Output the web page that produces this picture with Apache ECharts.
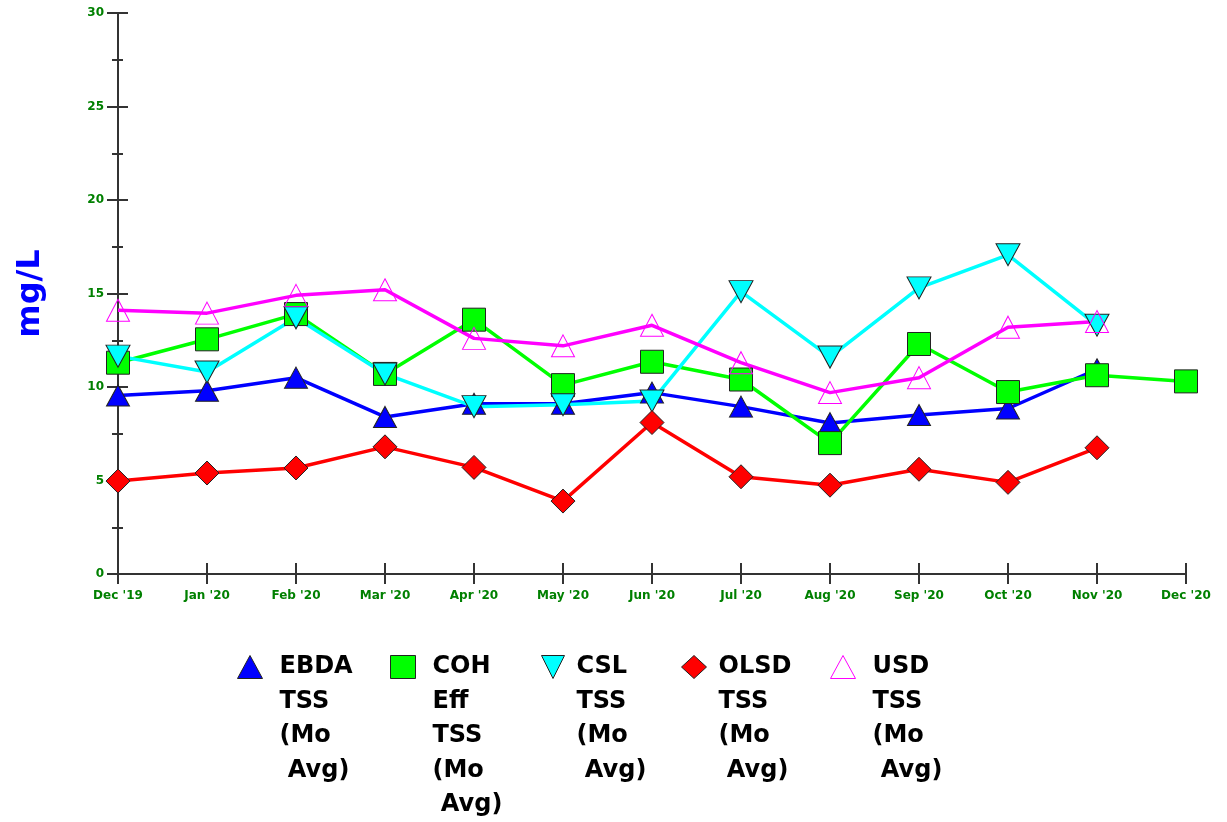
<!DOCTYPE html>
<html>
<head>
<meta charset="utf-8">
<script src="https://cdn.jsdelivr.net/npm/echarts@6/dist/echarts.min.js"></script>
<style>
html,body{margin:0;padding:0;background:#fff;}
#chart{width:1227px;height:822px;}
</style>
</head>
<body>
<div id="chart"></div>
<script>
var categories = ["Dec '19","Jan '20","Feb '20","Mar '20","Apr '20","May '20","Jun '20","Jul '20","Aug '20","Sep '20","Oct '20","Nov '20","Dec '20"];
var seriesNames = ["EBDA\nTSS\n(Mo\n Avg)", "COH\nEff\nTSS\n(Mo\n Avg)", "CSL\nTSS\n(Mo\n Avg)", "OLSD\nTSS\n(Mo\n Avg)", "USD\nTSS\n(Mo\n Avg)"];
var ebda = [9.55, 9.8, 10.5, 8.4, 9.1, 9.1, 9.7, 8.95, 8.07, 8.5, 8.85, 10.95, null];
var coh  = [11.3, 12.55, 13.9, 10.7, 13.6, 10.1, 11.35, 10.4, 7.0, 12.3, 9.73, 10.63, 10.3];
var csl  = [11.65, 10.8, 13.7, 10.7, 8.95, 9.05, 9.25, 15.1, 11.6, 15.3, 17.07, 13.3, null];
var olsd = [4.97, 5.4, 5.67, 6.8, 5.7, 3.9, 8.1, 5.2, 4.75, 5.6, 4.9, 6.75, null];
var usd  = [14.1, 13.95, 14.9, 15.2, 12.6, 12.2, 13.3, 11.3, 9.7, 10.5, 13.2, 13.5, null];
var yTicks = [0, 5, 10, 15, 20, 25, 30];

var FONT = 'DejaVu Sans';
var labelGreen = '#008000';
var axisColor = '#333333';
var invTri = 'path://M0,0L2,0L1,2Z';

function mkSeries(name, data, color, symbol, size, hollow) {
  return {
    name: name, type: 'line', data: data,
    xAxisIndex: 0, yAxisIndex: 0,
    symbol: symbol, symbolSize: size,
    showAllSymbol: true, connectNulls: false,
    lineStyle: {color: color, width: 3.5},
    itemStyle: hollow ? {color: 'rgba(255,255,255,0)', borderColor: color, borderWidth: 1}
                      : {color: color, borderColor: '#222', borderWidth: 1},
    emphasis: {disabled: true},
    animation: false
  };
}

var legendLayout = [
  {left: 237, pad: 13, icon: 'triangle'},
  {left: 390, pad: 13, icon: 'rect'},
  {left: 541, pad: 7, icon: invTri},
  {left: 681, pad: 8, icon: 'diamond'},
  {left: 830, pad: 13, icon: 'triangle'}
];
var LH = 34.5, IH = 23, iconCenter = 667;
var legends = legendLayout.map(function (L, i) {
  var n = seriesNames[i].split('\n').length;
  return {
    left: L.left,
    top: iconCenter - (2 * n - 1) * LH / 2,
    padding: 0,
    itemWidth: 25, itemHeight: IH,
    selectedMode: false,
    itemStyle: {borderWidth: 1},
    data: [{name: seriesNames[i], icon: L.icon}],
    formatter: function (name) {
      var lines = name.split('\n');
      var out = [];
      for (var k = 0; k < lines.length - 1; k++) out.push('{t| }');
      lines.forEach(function (s) { out.push('{t|' + s + '}'); });
      return out.join('\n');
    },
    textStyle: {
      fontFamily: FONT, fontWeight: 'bold', fontSize: 24, color: '#000', lineHeight: LH,
      rich: {t: {fontFamily: FONT, fontWeight: 'bold', fontSize: 24, color: '#000', lineHeight: LH, padding: [0, 0, 0, L.pad - 1]}}
    }
  };
});

var option = {
  backgroundColor: '#ffffff',
  animation: false,
  grid: {left: 118, right: 41, top: 13, bottom: 248, containLabel: false},
  legend: legends,
  xAxis: [
    {
      type: 'category', data: categories, boundaryGap: false,
      axisLine: {show: true, lineStyle: {color: axisColor, width: 2}},
      axisTick: {show: true, inside: false, length: 10, lineStyle: {color: axisColor, width: 2}},
      axisLabel: {show: true, margin: 16, color: labelGreen, fontFamily: FONT, fontWeight: 'bold', fontSize: 12, interval: 0},
      splitLine: {show: false}
    },
    {
      type: 'category', data: categories, boundaryGap: false, position: 'bottom',
      axisLine: {show: false},
      axisTick: {show: true, inside: true, length: 11, lineStyle: {color: axisColor, width: 2}},
      axisLabel: {show: false},
      splitLine: {show: false}
    }
  ],
  yAxis: [
    {
      type: 'value', min: yTicks[0], max: yTicks[yTicks.length - 1], interval: yTicks[1] - yTicks[0],
      name: 'mg/L', nameLocation: 'middle', nameGap: 71, nameRotate: 90,
      nameTextStyle: {color: '#0000ff', fontFamily: FONT, fontWeight: 'bold', fontSize: 32},
      axisLine: {show: true, lineStyle: {color: axisColor, width: 2}},
      axisTick: {show: true, inside: false, length: 11, lineStyle: {color: axisColor, width: 2}},
      minorTick: {show: true, splitNumber: 2, length: 6, lineStyle: {color: axisColor, width: 2}},
      axisLabel: {margin: 14, color: labelGreen, fontFamily: FONT, fontWeight: 'bold', fontSize: 12},
      splitLine: {show: false}, minorSplitLine: {show: false}
    },
    {
      type: 'value', min: yTicks[0], max: yTicks[yTicks.length - 1], interval: yTicks[1] - yTicks[0],
      position: 'left',
      axisLine: {show: false},
      axisTick: {show: true, inside: true, length: 10, lineStyle: {color: axisColor, width: 2}},
      minorTick: {show: true, splitNumber: 2, length: 5, lineStyle: {color: axisColor, width: 2}},
      axisLabel: {show: false},
      splitLine: {show: false}, minorSplitLine: {show: false}
    }
  ],
  series: [
    mkSeries(seriesNames[0], ebda, '#0000ff', 'triangle', [23, 21], false),
    mkSeries(seriesNames[1], coh, '#00ff00', 'rect', [23, 23], false),
    mkSeries(seriesNames[2], csl, '#00ffff', invTri, [24, 22], false),
    mkSeries(seriesNames[3], olsd, '#ff0000', 'diamond', [24, 24], false),
    mkSeries(seriesNames[4], usd, '#ff00ff', 'triangle', [23, 22], true)
  ]
};

var chart = echarts.init(document.getElementById('chart'), null, {renderer: 'canvas'});
chart.setOption(option);
</script>
</body>
</html>
